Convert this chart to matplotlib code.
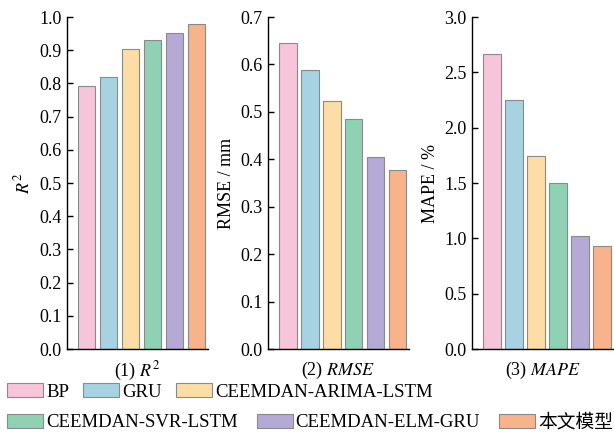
import matplotlib
matplotlib.use('Agg')
import matplotlib.pyplot as plt
from matplotlib.patches import Patch

plt.rcParams['font.family'] = ['Liberation Serif', 'Noto Sans CJK SC']
plt.rcParams['mathtext.fontset'] = 'stix'
plt.rcParams['font.size'] = 13

models = ['BP', 'GRU', 'CEEMDAN-ARIMA-LSTM', 'CEEMDAN-SVR-LSTM', 'CEEMDAN-ELM-GRU', '本文模型']
colors = ['#F7C5DA', '#A7D2E2', '#FDDDA6', '#8FD1B4', '#B4AAD5', '#F8B38A']

r2 = [0.792, 0.820, 0.905, 0.932, 0.952, 0.978]
rmse = [0.645, 0.588, 0.522, 0.484, 0.405, 0.378]
mape = [2.67, 2.25, 1.74, 1.50, 1.02, 0.93]

panels = [
    (r2, 1.0, 0.1, '$R^2$', '(1) $R^2$', 0.109),
    (rmse, 0.7, 0.1, 'RMSE / mm', '(2) $RMSE$', 0.4365),
    (mape, 3.0, 0.5, 'MAPE / %', '(3) $MAPE$', 0.769),
]

fig = plt.figure(figsize=(6.14, 4.36), dpi=100)

for vals, ymax, step, ylab, xlab, left in panels:
    ax = fig.add_axes([left, 0.1995, 0.229, 0.7615])
    x = range(len(vals))
    ax.bar(x, vals, width=0.8, color=colors, edgecolor='#8a8a8a', linewidth=0.8)
    ax.set_xlim(-0.9, 5.5)
    ax.set_ylim(0, ymax)
    n = int(round(ymax / step))
    ax.set_yticks([i * step for i in range(n + 1)])
    ax.yaxis.set_major_formatter(matplotlib.ticker.FormatStrFormatter('%.1f'))
    ax.set_xticks([])
    ax.tick_params(axis='y', direction='in', length=4, width=1, labelsize=13, pad=4)
    ax.spines['top'].set_visible(False)
    ax.spines['right'].set_visible(False)
    ax.spines['left'].set_linewidth(1.0)
    ax.spines['bottom'].set_linewidth(1.0)
    ax.set_ylabel(ylab, fontsize=13, labelpad=4)
    ax.set_xlabel(xlab, fontsize=13, labelpad=8)

# legend drawn as two rows, each packed on its own
handles = [Patch(facecolor=c, edgecolor='#8a8a8a', linewidth=0.8) for c in colors]
legend_kw = dict(frameon=False, ncol=3, fontsize=13.5, handlelength=1.92, handleheight=0.75,
                 handletextpad=0.16, borderpad=0, borderaxespad=0)
leg1 = fig.legend(handles[:3], models[:3], loc='center left', columnspacing=0.75,
                  bbox_to_anchor=(0.012, 0.101), **legend_kw)
leg2 = fig.legend(handles[3:], models[3:], loc='center left', columnspacing=1.0,
                  bbox_to_anchor=(0.012, 0.031), **legend_kw)

fig.savefig('out.png', dpi=100)
